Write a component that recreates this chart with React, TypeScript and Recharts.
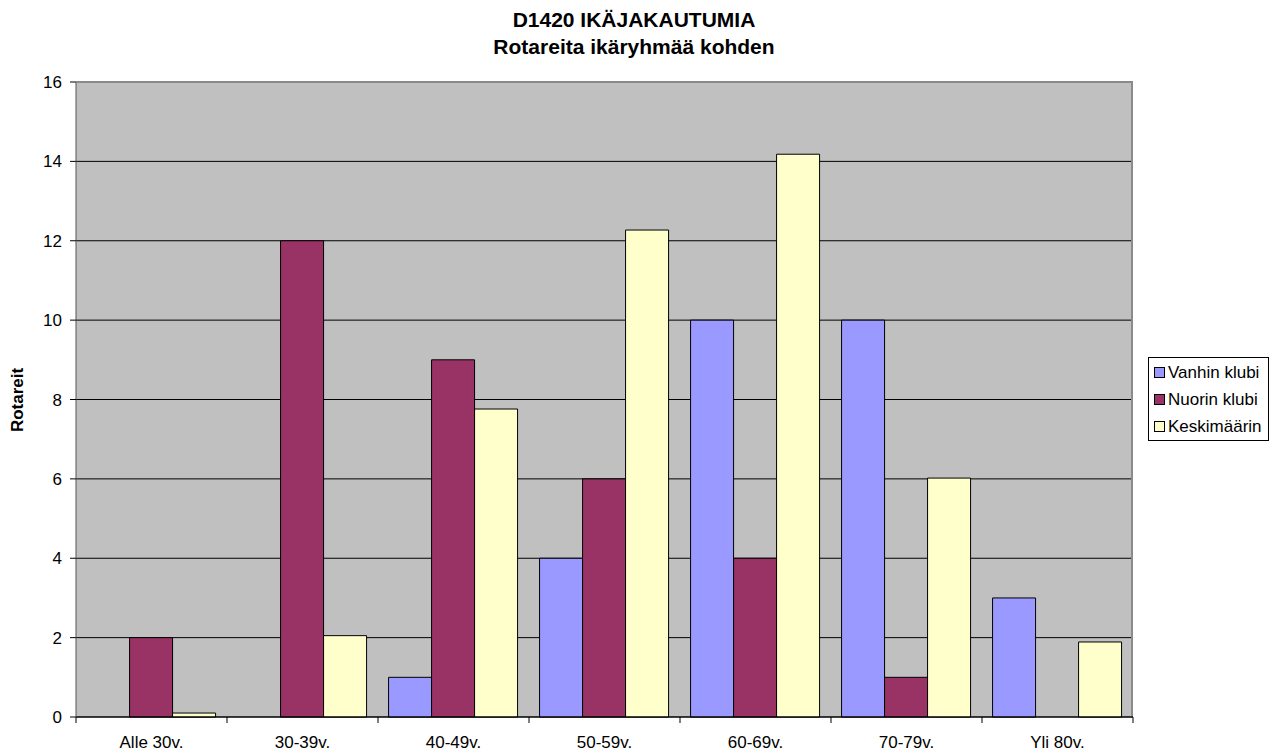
import React from "react";
import { BarChart, Bar, XAxis, YAxis, CartesianGrid } from "recharts";

const categories = ["Alle 30v.", "30-39v.", "40-49v.", "50-59v.", "60-69v.", "70-79v.", "Yli 80v."];
const vanhin = [0, 0, 1, 4, 10, 10, 3];
const nuorin = [2, 12, 9, 6, 4, 1, 0];
const keski = [0.1, 2.05, 7.76, 12.27, 14.18, 6.02, 1.89];
const yTicks = [0, 2, 4, 6, 8, 10, 12, 14, 16];

const seriesInfo = [
  { key: "vanhin", name: "Vanhin klubi", color: "#9999FF" },
  { key: "nuorin", name: "Nuorin klubi", color: "#993366" },
  { key: "keski", name: "Keskimäärin", color: "#FFFFCC" },
];

const data = categories.map((c, i) => ({
  cat: c,
  vanhin: vanhin[i],
  nuorin: nuorin[i],
  keski: keski[i],
}));

const W = 1278;
const H = 755;
const XH = 30;
const M = { top: 82, right: 145, bottom: 38 - XH, left: 0 };
const YW = 76;
const PLOT_W = W - M.right - M.left - YW;
const PLOT_H = H - M.top - 38;
const band = PLOT_W / categories.length;

const FONT = "'Liberation Sans', Arial, sans-serif";

const XTick = (props: any) => {
  const { x, y, payload, index } = props;
  const half = band / 2;
  return (
    <g>
      {index === 0 && <line x1={x - half} y1={y - 8} x2={x - half} y2={y - 2} stroke="#000" />}
      <line x1={x + half} y1={y - 8} x2={x + half} y2={y - 2} stroke="#000" />
      <text x={x} y={y + 23} textAnchor="middle" fontSize={17} fontFamily={FONT} fill="#000">
        {payload.value}
      </text>
    </g>
  );
};

const LegendBox = () => (
  <div
    style={{
      position: "absolute",
      left: 1148,
      top: 357,
      border: "1px solid #000",
      background: "#fff",
      width: 121,
      height: 84,
      boxSizing: "border-box",
      padding: "1px 0 0 5px",
      fontFamily: FONT,
      fontSize: 17,
    }}
  >
    {seriesInfo.map((s) => (
      <div key={s.key} style={{ display: "flex", alignItems: "center", height: 27 }}>
        <span
          style={{
            display: "inline-block",
            width: 9,
            height: 9,
            background: s.color,
            border: "1px solid #000",
            marginRight: 3,
          }}
        />
        <span>{s.name}</span>
      </div>
    ))}
  </div>
);

export default function App() {
  return (
    <div style={{ position: "absolute", left: 0, top: 0, width: W, height: H, background: "#fff" }}>
      <div
        style={{
          position: "absolute",
          left: 0,
          width: W - 10,
          top: 6,
          textAlign: "center",
          fontFamily: FONT,
          fontWeight: "bold",
          fontSize: 21,
          lineHeight: "27px",
          color: "#000",
        }}
      >
        <div>D1420 IKÄJAKAUTUMIA</div>
        <div>Rotareita ikäryhmää kohden</div>
      </div>
      <div
        style={{
          position: "absolute",
          left: 18,
          top: 400,
          transform: "translate(-50%, -50%) rotate(-90deg)",
          fontFamily: FONT,
          fontWeight: "bold",
          fontSize: 17,
          whiteSpace: "nowrap",
        }}
      >
        Rotareit
      </div>
      <BarChart
        width={W}
        height={H}
        data={data}
        margin={M}
        barCategoryGap="7%"
        barGap={0}
        style={{ position: "absolute", left: 0, top: 0 }}
      >
        <CartesianGrid vertical={false} stroke="#000" strokeOpacity={1} fill="#C0C0C0" fillOpacity={1} />
        <XAxis
          dataKey="cat"
          height={XH}
          tick={<XTick />}
          tickLine={false}
          axisLine={{ stroke: "#000" }}
          interval={0}
        />
        <YAxis
          width={YW}
          domain={[0, 16]}
          ticks={yTicks}
          tickSize={6}
          tickMargin={8}
          axisLine={{ stroke: "#555" }}
          tickLine={{ stroke: "#000" }}
          tick={{ fontSize: 17, fontFamily: FONT, fill: "#000" }}
          interval={0}
        />
        {seriesInfo.map((s) => (
          <Bar
            key={s.key}
            dataKey={s.key}
            name={s.name}
            fill={s.color}
            stroke="#000"
            strokeWidth={1}
            isAnimationActive={false}
          />
        ))}
      </BarChart>
      <div
        style={{
          position: "absolute",
          left: YW,
          top: M.top - 1,
          width: PLOT_W,
          height: PLOT_H,
          borderTop: "2px solid #8a8a8a",
          borderRight: "2px solid #8a8a8a",
          boxSizing: "border-box",
          pointerEvents: "none",
        }}
      />
      <LegendBox />
    </div>
  );
}
